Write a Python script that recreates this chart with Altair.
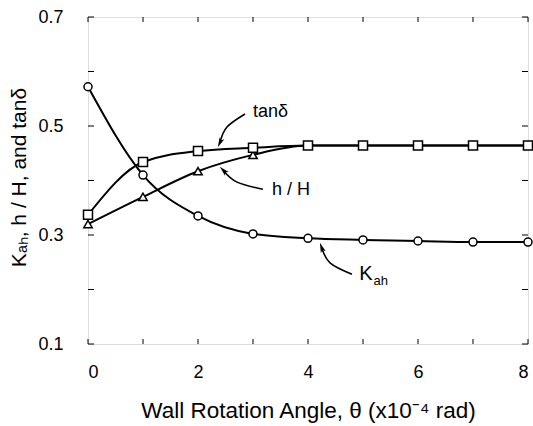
import altair as alt
import pandas as pd

theta = [0, 1, 2, 3, 4, 5, 6, 7, 8]
kah = [0.572, 0.410, 0.335, 0.302, 0.294, 0.291, 0.289, 0.287, 0.287]
tand = [0.337, 0.434, 0.454, 0.460, 0.464, 0.464, 0.464, 0.464, 0.464]
hH = [0.320, 0.370, 0.417, 0.447, 0.464, 0.464, 0.464, 0.464, 0.464]

x_ticks = [0, 1, 2, 3, 4, 5, 6, 7, 8]
y_ticks = [0.1, 0.2, 0.3, 0.4, 0.5, 0.6, 0.7]
x_labels = [0, 2, 4, 6, 8]
y_labels = [0.1, 0.3, 0.5, 0.7]

# annotation arrows (data coordinates): tail, middle, end
arrow_tan_x = [2.855, 2.527, 2.40]
arrow_tan_y = [0.522, 0.498, 0.470]
arrow_hh_x = [3.18, 2.71, 2.464]
arrow_hh_y = [0.384, 0.397, 0.418]
arrow_k_x = [4.80, 4.40, 4.249]
arrow_k_y = [0.228, 0.249, 0.277]
head_x = [2.40, 2.464, 4.249]
head_y = [0.4697, 0.4183, 0.2767]
head_angle = [205, 315, 340]

label_text = ["tanδ", "h / H", "K"]
label_x = [3.0, 3.345, 4.93]
label_y = [0.526, 0.383, 0.228]
label_size = [18, 18, 20]
sub_text = ["ah"]
sub_x = [5.19]
sub_y = [0.215]

FONT = "Liberation Sans"
W, H = 440, 327

xs = alt.Scale(domain=[0, 8], nice=False, zero=False)
ys = alt.Scale(domain=[0.1, 0.7], nice=False, zero=False)

series = pd.DataFrame({
    "theta": theta * 3,
    "value": kah + hH + tand,
    "series": ["Kah"] * 9 + ["hH"] * 9 + ["tan"] * 9,
})


def line_of(name):
    return alt.Chart(series[series.series == name]).mark_line(
        color="black", strokeWidth=2, interpolate="monotone"
    ).encode(
        x=alt.X("theta:Q", scale=xs),
        y=alt.Y("value:Q", scale=ys),
    )


def points_of(name, shape, size):
    return alt.Chart(series[series.series == name]).mark_point(
        shape=shape, size=size, filled=True, fill="white", stroke="black",
        strokeWidth=1.5, opacity=1
    ).encode(
        x=alt.X("theta:Q", scale=xs),
        y=alt.Y("value:Q", scale=ys),
    )


axis_layer = alt.Chart(pd.DataFrame({"theta": [0], "value": [0.1]})).mark_point(opacity=0).encode(
    x=alt.X("theta:Q", scale=xs, title="Wall Rotation Angle, θ (x10⁻⁴ rad)",
            axis=alt.Axis(values=x_labels, tickSize=0, domain=False, grid=False,
                          labelFont=FONT, labelFontSize=18, labelColor="black",
                          labelPadding=19, titleFont=FONT, titleFontSize=22.5,
                          titleFontWeight="normal", titleColor="black",
                          titleX=220, titleY=66, titleBaseline="middle", titleAlign="center")),
    y=alt.Y("value:Q", scale=ys, title="Kₐₕ, h / H, and tanδ",
            axis=alt.Axis(values=y_labels, format=".1f", tickSize=0, domain=False, grid=False,
                          labelFont=FONT, labelFontSize=18, labelColor="black",
                          labelPadding=25, titleFont=FONT, titleFontSize=21,
                          titleFontWeight="normal", titleColor="black",
                          titleX=-69, titleY=160, titleAngle=-90,
                          titleBaseline="middle", titleAlign="center")),
)

xt = pd.DataFrame({"t": x_ticks})
yt = pd.DataFrame({"t": y_ticks})
tick_style = dict(color="black", strokeWidth=1)
tick_bottom = alt.Chart(xt).mark_rule(**tick_style).encode(
    x=alt.X("t:Q", scale=xs), y=alt.value(H), y2=alt.value(H - 5))
tick_top = alt.Chart(xt).mark_rule(**tick_style).encode(
    x=alt.X("t:Q", scale=xs), y=alt.value(0), y2=alt.value(5))
tick_left = alt.Chart(yt).mark_rule(**tick_style).encode(
    y=alt.Y("t:Q", scale=ys), x=alt.value(0), x2=alt.value(6))
tick_right = alt.Chart(yt).mark_rule(**tick_style).encode(
    y=alt.Y("t:Q", scale=ys), x=alt.value(W), x2=alt.value(W - 6))


def arrow(xv, yv):
    d = pd.DataFrame({"x": xv, "y": yv, "i": list(range(len(xv)))})
    return alt.Chart(d).mark_line(color="black", strokeWidth=1.6, interpolate="cardinal").encode(
        x=alt.X("x:Q", scale=xs), y=alt.Y("y:Q", scale=ys), order="i:Q")


ARROW_PATH = "M0,-1L0.5,0.9L0,0.45L-0.5,0.9Z"
heads = alt.Chart(pd.DataFrame({"x": head_x, "y": head_y, "a": head_angle})).mark_point(
    shape=ARROW_PATH, size=110, filled=True, color="black", opacity=1, strokeWidth=0
).encode(x=alt.X("x:Q", scale=xs), y=alt.Y("y:Q", scale=ys), angle=alt.Angle("a:Q", scale=None))

labels = alt.Chart(pd.DataFrame({"x": label_x, "y": label_y, "t": label_text, "s": label_size})).mark_text(
    font=FONT, color="black", align="left", baseline="middle"
).encode(x=alt.X("x:Q", scale=xs), y=alt.Y("y:Q", scale=ys), text="t:N",
         size=alt.Size("s:Q", scale=None))

subs = alt.Chart(pd.DataFrame({"x": sub_x, "y": sub_y, "t": sub_text})).mark_text(
    font=FONT, fontSize=13, color="black", align="left", baseline="middle"
).encode(x=alt.X("x:Q", scale=xs), y=alt.Y("y:Q", scale=ys), text="t:N")

chart = alt.layer(
    axis_layer,
    tick_bottom, tick_top, tick_left, tick_right,
    line_of("Kah"), line_of("hH"), line_of("tan"),
    arrow(arrow_tan_x, arrow_tan_y), arrow(arrow_hh_x, arrow_hh_y), arrow(arrow_k_x, arrow_k_y),
    heads,
    points_of("Kah", "circle", 64), points_of("hH", "triangle-up", 70), points_of("tan", "square", 81),
    labels, subs,
).properties(
    width=W, height=H,
    autosize=alt.AutoSizeParams(type="none"),
    padding={"left": 88, "top": 17, "right": 5, "bottom": 82},
).configure_view(stroke="black", strokeWidth=1.5).configure(background="white")

chart.save("out.html", embed_options={"renderer": "svg", "actions": False})
